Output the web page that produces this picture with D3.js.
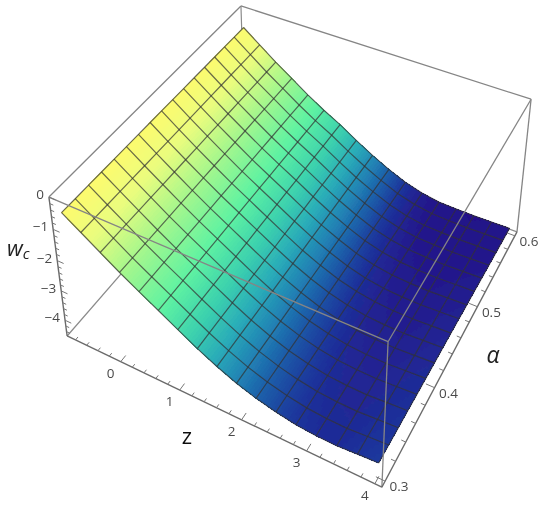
<!DOCTYPE html>
<html>
<head>
<meta charset="utf-8">
<script src="https://cdnjs.cloudflare.com/ajax/libs/d3/7.8.5/d3.min.js"></script>
<style>
  body { margin: 0; background: #fff; }
  svg text { font-family: "Open Sans", sans-serif; }
</style>
</head>
<body>
<div id="svg-container"></div>
<script>
// values
const zNodes = [-0.85, -0.547, -0.244, 0.059, 0.363, 0.666, 0.969, 1.272, 1.575, 1.878, 2.181, 2.484, 2.788, 3.091, 3.394, 3.697, 4];
const alphaNodes = [0.3, 0.45, 0.6];
const wAlpha030 = [-0.54, -0.92, -1.30, -1.68, -2.03, -2.37, -2.72, -3.06, -3.36, -3.62, -3.82, -3.97, -4.08, -4.13, -4.14, -4.09, -4.05];
const wAlpha045 = [-0.56, -0.97, -1.36, -1.74, -2.11, -2.45, -2.79, -3.13, -3.45, -3.72, -3.95, -4.11, -4.21, -4.25, -4.26, -4.23, -4.20];
const wAlpha060 = [-0.58, -1.00, -1.42, -1.80, -2.19, -2.54, -2.85, -3.21, -3.54, -3.83, -4.08, -4.25, -4.35, -4.37, -4.38, -4.37, -4.36];

const zTicks = [0, 1, 2, 3, 4];
const zMinor = d3.range(-0.8, 4.01, 0.2);
const alphaTicks = [0.3, 0.4, 0.5, 0.6];
const alphaMinor = d3.range(0.3, 0.601, 0.02);
const wTicks = [0, -1, -2, -3, -4];
const wMinor = d3.range(0, -4.41, -0.2);

const colorW = [-0.5, -1.1, -1.7, -2.4, -2.93, -3.3, -3.64, -3.9, -4.1, -4.3, -4.4];
const colorStops = ["#fffb6c", "#eafc7e", "#a8f78c", "#5ff2a2", "#3bd0ae", "#2aacb8", "#2080b4", "#1e55a6", "#1e309a", "#23188c", "#250f88"];

const width = 550, height = 510;

// box edges as scales on to a unit cube
const zBox = d3.scaleLinear([-0.95, 4.1], [0, 1]);
const alphaBox = d3.scaleLinear([0.294, 0.606], [0, 1]);
const wBox = d3.scaleLinear([0, -4.55], [0, 1]);

// where the visible box corners sit on the page: u, v, t, x, y
const boxCorners = [
  [0, 0, 0, 49, 197], [0, 1, 0, 241, 6], [1, 1, 0, 531, 99], [1, 0, 0, 388, 342],
  [0, 0, 1, 67, 336], [1, 1, 1, 517, 232], [1, 0, 1, 382, 487]
];

// least squares fit of the camera matrix
function solveLS(rows, rhs) {
  const n = rows[0].length;
  const A = d3.range(n).map(i => d3.range(n).map(j => d3.sum(rows, r => r[i] * r[j])));
  const b = d3.range(n).map(i => d3.sum(rows, (r, k) => r[i] * rhs[k]));
  for (let i = 0; i < n; i++) {
    let p = i;
    for (let k = i + 1; k < n; k++) if (Math.abs(A[k][i]) > Math.abs(A[p][i])) p = k;
    [A[i], A[p]] = [A[p], A[i]];
    [b[i], b[p]] = [b[p], b[i]];
    for (let k = i + 1; k < n; k++) {
      const f = A[k][i] / A[i][i];
      for (let j = i; j < n; j++) A[k][j] -= f * A[i][j];
      b[k] -= f * b[i];
    }
  }
  const x = Array(n).fill(0);
  for (let i = n - 1; i >= 0; i--) {
    let s = b[i];
    for (let j = i + 1; j < n; j++) s -= A[i][j] * x[j];
    x[i] = s / A[i][i];
  }
  return x;
}

const fitRows = [], fitRhs = [];
boxCorners.forEach(([u, v, t, x, y]) => {
  fitRows.push([u, v, t, 1, 0, 0, 0, 0, -x * u, -x * v, -x * t]);
  fitRhs.push(x);
  fitRows.push([0, 0, 0, 0, u, v, t, 1, -y * u, -y * v, -y * t]);
  fitRhs.push(y);
});
const cam = solveLS(fitRows, fitRhs);

const projectUnit = (u, v, t) => {
  const d = cam[8] * u + cam[9] * v + cam[10] * t + 1;
  return [(cam[0] * u + cam[1] * v + cam[2] * t + cam[3]) / d,
          (cam[4] * u + cam[5] * v + cam[6] * t + cam[7]) / d];
};
const project = (z, a, w) => projectUnit(zBox(z), alphaBox(a), wBox(w));

// surface height between the read values
const rowScales = [wAlpha030, wAlpha045, wAlpha060].map(r => d3.scaleLinear().domain(zNodes).range(r));
const wAt = (z, a) => d3.scaleLinear().domain(alphaNodes).range(rowScales.map(s => s(z)))(a);
const surf = (z, a) => project(z, a, wAt(z, a));

const color = d3.scaleLinear().domain(colorW).range(colorStops).clamp(true);

const svg = d3.select("#svg-container")
  .append("svg")
  .attr("width", width)
  .attr("height", height);

svg.append("defs")
  .append("filter")
  .attr("id", "soft")
  .attr("filterUnits", "userSpaceOnUse")
  .attr("x", 0).attr("y", 0).attr("width", width).attr("height", height)
  .append("feGaussianBlur")
  .attr("stdDeviation", 0.4);

const root = svg.append("g").attr("filter", "url(#soft)");

const line = d3.line();
const edge = (a, b) => line([projectUnit(...a), projectUnit(...b)]);

// back edges, hidden by the surface where they pass under it
const backEdges = [
  [[0, 0, 1], [0, 1, 1]],
  [[0, 1, 1], [1, 1, 1]],
  [[0, 1, 0], [0, 1, 1]]
];
root.append("g").selectAll("path")
  .data(backEdges)
  .join("path")
  .attr("d", d => edge(d[0], d[1]))
  .attr("fill", "none")
  .attr("stroke", "#8a8a8a")
  .attr("stroke-width", 1.2);

// surface patches, each mesh cell cut up so the colour runs smoothly
const alphaMesh = d3.range(0, 17).map(i => d3.scaleLinear([0, 16], [0.3, 0.6])(i));
const sub = 8;
const patches = [];
for (let j = 15; j >= 0; j--) {
  for (let i = 0; i < 16; i++) {
    const zs = d3.scaleLinear([0, sub], [zNodes[i], zNodes[i + 1]]);
    const as = d3.scaleLinear([0, sub], [alphaMesh[j + 1], alphaMesh[j]]);
    for (let m = 0; m < sub; m++) {
      for (let n = 0; n < sub; n++) {
        patches.push({ z0: zs(n), z1: zs(n + 1), a0: as(m), a1: as(m + 1) });
      }
    }
  }
}
root.append("g")
  .attr("shape-rendering", "crispEdges")
  .selectAll("path")
  .data(patches)
  .join("path")
  .attr("d", d => line([surf(d.z0, d.a0), surf(d.z1, d.a0), surf(d.z1, d.a1), surf(d.z0, d.a1)]) + "Z")
  .each(function(d) {
    const c = color(wAt((d.z0 + d.z1) / 2, (d.a0 + d.a1) / 2));
    d3.select(this).attr("fill", c).attr("stroke", c);
  })
  .attr("stroke-width", 1);

// mesh lines
const meshLines = alphaMesh.map(a => zNodes.map(z => surf(z, a)))
  .concat(zNodes.map(z => alphaMesh.map(a => surf(z, a))));
root.append("g").selectAll("path")
  .data(meshLines)
  .join("path")
  .attr("d", line)
  .attr("fill", "none")
  .attr("stroke", "#333")
  .attr("stroke-opacity", 0.72)
  .attr("stroke-width", 1.2);

// front and top edges of the box
const frontEdges = [
  [[0, 0, 0], [0, 1, 0]],
  [[0, 1, 0], [1, 1, 0]],
  [[1, 1, 0], [1, 0, 0]],
  [[1, 0, 0], [0, 0, 0]],
  [[1, 0, 0], [1, 0, 1]],
  [[1, 1, 0], [1, 1, 1]]
];
root.append("g").selectAll("path")
  .data(frontEdges)
  .join("path")
  .attr("d", d => edge(d[0], d[1]))
  .attr("fill", "none")
  .attr("stroke", "#858585")
  .attr("stroke-width", 1.3);

// the three axes
const axisEdges = [
  [[0, 0, 0], [0, 0, 1]],
  [[0, 0, 1], [1, 0, 1]],
  [[1, 0, 1], [1, 1, 1]]
];
root.append("g").selectAll("path")
  .data(axisEdges)
  .join("path")
  .attr("d", d => edge(d[0], d[1]))
  .attr("fill", "none")
  .attr("stroke", "#6a6a6a")
  .attr("stroke-width", 1.4);

// ticks run along the box in 3D
const isMajor = (list, v) => list.some(m => Math.abs(m - v) < 1e-6);
const tickData = []
  .concat(zMinor.map(z => {
    const len = isMajor(zTicks, z) ? 0.024 : 0.012;
    return [[zBox(z), 0, 1], [zBox(z), len, 1]];
  }))
  .concat(alphaMinor.map(a => {
    const len = isMajor(alphaTicks, a) ? 0.026 : 0.013;
    return [[1, alphaBox(a), 1], [1 - len, alphaBox(a), 1]];
  }))
  .concat(wMinor.map(w => {
    const len = isMajor(wTicks, w) ? 0.022 : 0.012;
    return [[0, 0, wBox(w)], [len, 0, wBox(w)]];
  }));
root.append("g").selectAll("path")
  .data(tickData)
  .join("path")
  .attr("d", d => edge(d[0], d[1]))
  .attr("stroke", "#777")
  .attr("stroke-width", 1);

// tick labels
const labelFill = "#4a4a4a", labelSize = 13.5;
root.append("g").selectAll("text")
  .data(zTicks)
  .join("text")
  .attr("x", d => project(d, 0.294, -4.55)[0] - 10)
  .attr("y", d => project(d, 0.294, -4.55)[1] + 16)
  .attr("text-anchor", "middle")
  .attr("font-size", labelSize)
  .attr("fill", labelFill)
  .text(d => d);
root.append("g").selectAll("text")
  .data(alphaTicks)
  .join("text")
  .attr("x", d => project(4.1, d, -4.55)[0] + 14)
  .attr("y", d => project(4.1, d, -4.55)[1] + 10)
  .attr("text-anchor", "middle")
  .attr("font-size", labelSize)
  .attr("fill", labelFill)
  .text(d => d3.format(".1f")(d));
root.append("g").selectAll("text")
  .data(wTicks)
  .join("text")
  .attr("x", d => project(-0.95, 0.294, d)[0] - 5)
  .attr("y", d => project(-0.95, 0.294, d)[1] + 2)
  .attr("text-anchor", "end")
  .attr("font-size", labelSize)
  .attr("fill", labelFill)
  .text(d => d === 0 ? "0" : "\u2212" + Math.abs(d));

// axis titles
const wTitle = root.append("text")
  .attr("x", 7)
  .attr("y", 256)
  .attr("fill", "#222")
  .attr("font-style", "italic")
  .attr("font-size", 22);
wTitle.append("tspan").text("w");
wTitle.append("tspan").attr("font-size", 15).attr("dy", 3).text("c");

root.append("text")
  .attr("x", 493)
  .attr("y", 363)
  .attr("text-anchor", "middle")
  .attr("fill", "#222")
  .attr("font-style", "italic")
  .attr("font-size", 23)
  .text("\u03b1");

root.append("text")
  .attr("x", 187)
  .attr("y", 444)
  .attr("text-anchor", "middle")
  .attr("fill", "#111")
  .attr("font-size", 22)
  .text("z");
</script>
</body>
</html>
